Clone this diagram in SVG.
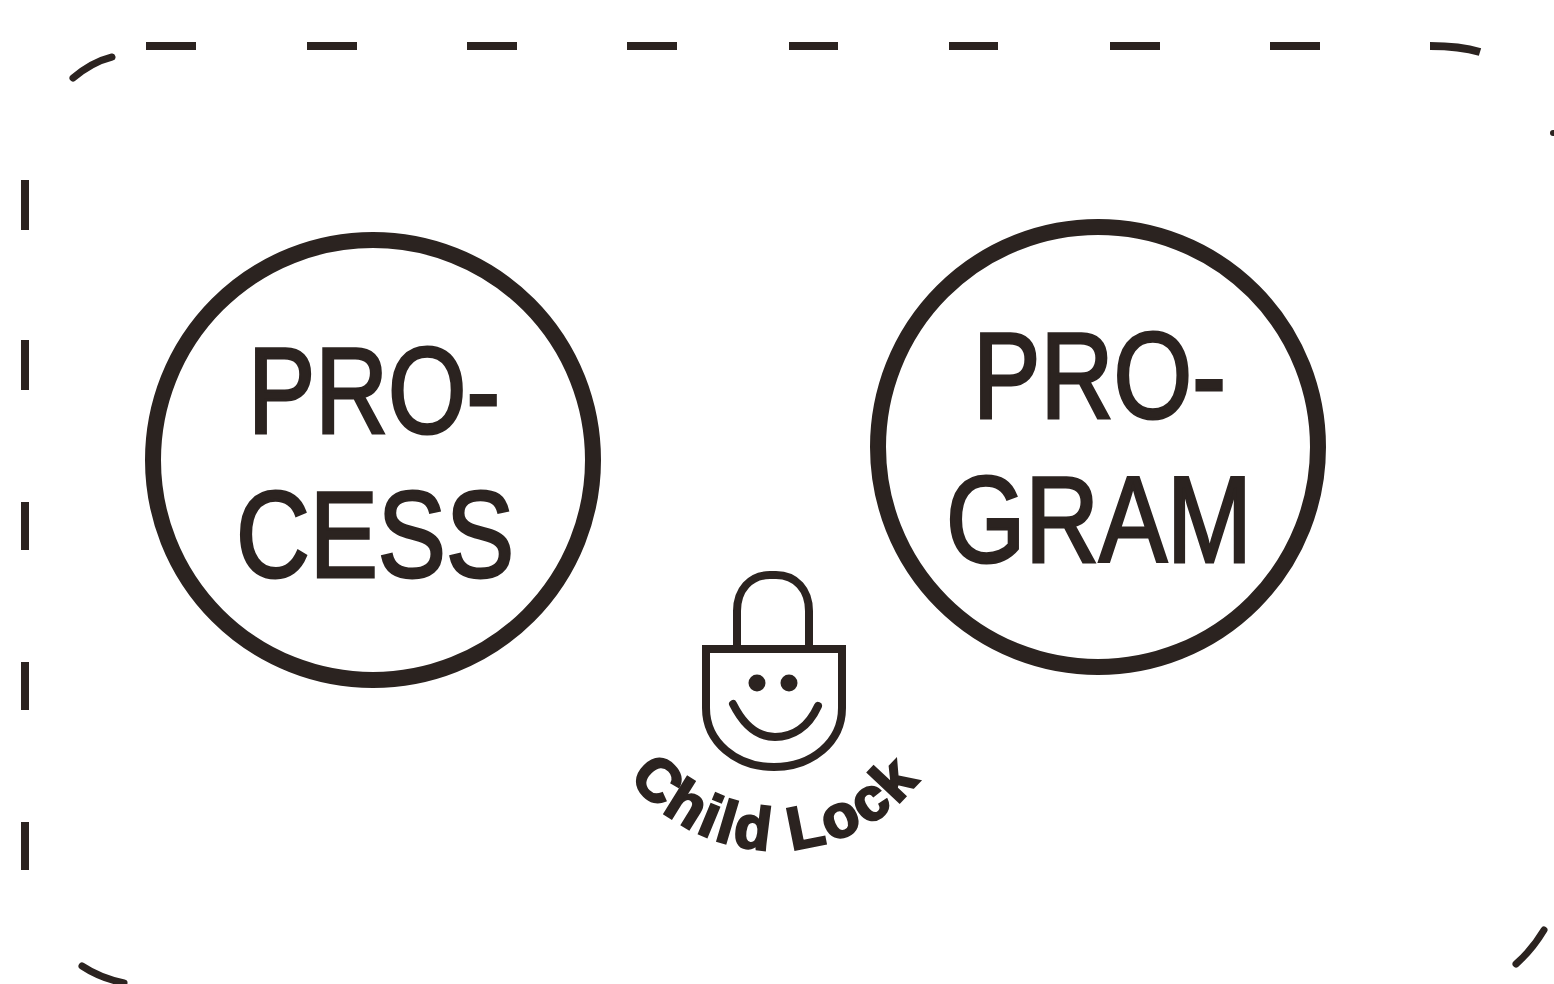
<svg xmlns="http://www.w3.org/2000/svg" width="1554" height="984" viewBox="0 0 1554 984">
<style>
.l{fill:none;stroke:#2b2320;stroke-width:8}
.e{fill:none;stroke:#2b2320;stroke-width:7;stroke-linecap:round}
.r{fill:none;stroke:#2b2320;stroke-width:16}
.t{font-family:"Liberation Sans",Arial,sans-serif;font-size:122px;fill:#2b2320;stroke:#2b2320;stroke-width:3}
.c{font-family:"Liberation Sans",Arial,sans-serif;font-size:60px;font-weight:bold;letter-spacing:3px;fill:#2b2320;stroke:#2b2320;stroke-width:2.5}
</style>
<defs><path id="arc" d="M591 666 A184 184 0 0 0 959 666"/></defs>
<rect width="1554" height="984" fill="#fff"/>
<g id="connectors">
<path class="l" d="M146 46H196M307 46H357M467 46H517M627 46H677M789 46H838M949 46H998M1110 46H1160M1270 46H1320"/>
<path class="l" d="M1430 46Q1460 46 1480 52"/>
<path class="l" d="M25 180V230M25 340V390M25 502V550M25 662V710M25 822V870"/>
<path class="e" d="M73 78Q92 62 112 57M82 966Q100 978 124 983M1516 964Q1532 950 1544 930"/>
<circle cx="1553" cy="133" r="3" fill="#2b2320"/>
</g>
<g id="process">
<circle class="r" cx="373" cy="460" r="220"/>
<text class="t" x="248" y="433" textLength="252" lengthAdjust="spacingAndGlyphs">PRO-</text>
<text class="t" x="236" y="577" textLength="278" lengthAdjust="spacingAndGlyphs">CESS</text>
</g>
<g id="program">
<circle class="r" cx="1098" cy="447" r="220"/>
<text class="t" x="973" y="418" textLength="253" lengthAdjust="spacingAndGlyphs">PRO-</text>
<text class="t" x="946" y="562" textLength="306" lengthAdjust="spacingAndGlyphs">GRAM</text>
</g>
<g id="child-lock">
<path class="l" d="M737 649V611C737 590 750 575 770 575H776C796 575 809 590 809 611V649"/>
<path class="l" d="M706 649H842V708C842 742 812 767 774 767C736 767 706 742 706 708Z"/>
<circle cx="757" cy="683" r="8.5" fill="#2b2320"/>
<circle cx="789" cy="683" r="8.5" fill="#2b2320"/>
<path class="l" d="M733 704C745 728 760 737 775 737C792 737 808 728 818 706" stroke-linecap="round"/>
<text class="c"><textPath href="#arc" startOffset="50%" text-anchor="middle">Child Lock</textPath></text>
</g>
</svg>
